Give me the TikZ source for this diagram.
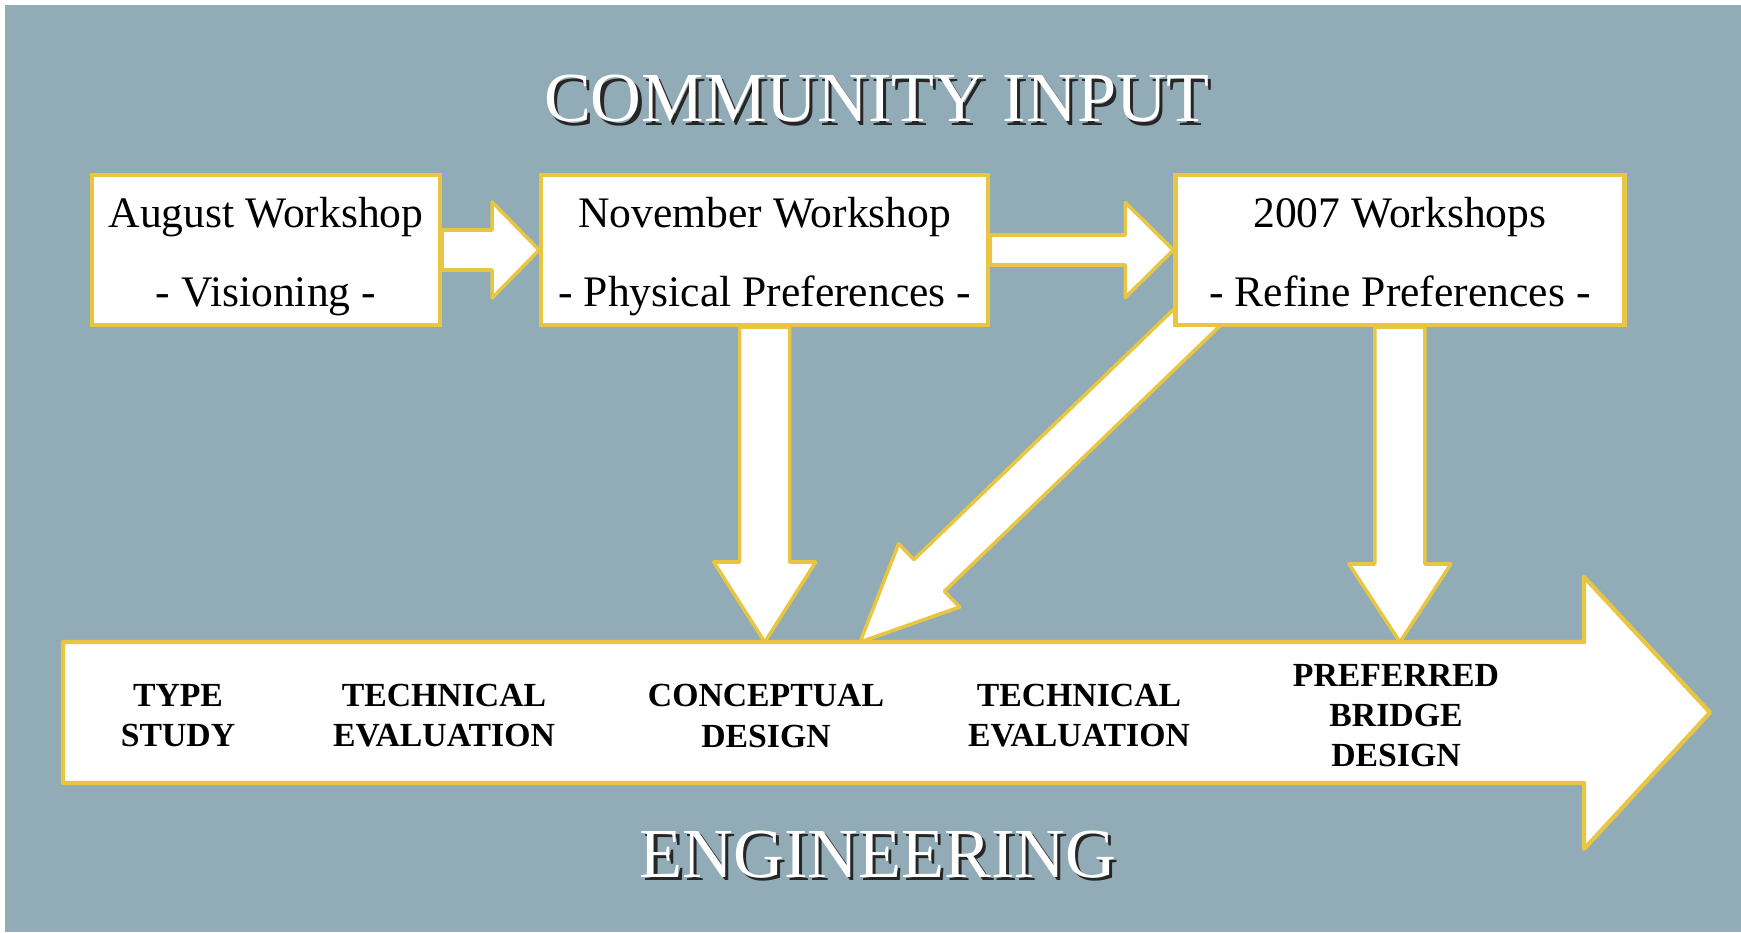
\documentclass[tikz,border=0pt]{standalone}
\usepackage{fontspec}
\setmainfont{Liberation Serif}
\usetikzlibrary{positioning, calc}

\definecolor{slate}{RGB}{145,172,182}
\definecolor{gold}{RGB}{232,198,66}

\pgfdeclarelayer{backdrop}
\pgfdeclarelayer{links}
\pgfsetlayers{backdrop,links,main}

% block arrow: from, to, half shaft, half head, head length
\newcommand{\blockarrow}[5]{%
  \path (#1) coordinate (ba-from) (#2) coordinate (ba-to);
  \path ($(ba-to)!#5!(ba-from)$) coordinate (ba-neck);
  \filldraw[flow] ($(ba-from)!#3!90:(ba-to)$) -- ($(ba-neck)!#3!90:(ba-to)$)
    -- ($(ba-neck)!#4!90:(ba-to)$) -- (ba-to)
    -- ($(ba-neck)!#4!-90:(ba-to)$) -- ($(ba-neck)!#3!-90:(ba-to)$)
    -- ($(ba-from)!#3!-90:(ba-to)$) -- cycle;
}
\newcommand{\embossed}[1]{\makebox[0pt][l]{\hspace{0.9pt}\raisebox{-0.9pt}{\color{black!85}#1}}{\color{white}#1}}
% workshop title and topic, with fixed line heights
\newcommand{\twolines}[2]{\rule{0pt}{12.5pt}#1\\#2\rule[-3pt]{0pt}{3pt}}

\begin{document}
\begin{tikzpicture}[
    box/.style={draw=gold, line width=1.2pt, fill=white, align=center, minimum height=1.5cm, inner sep=0pt,
      font=\fontsize{12.4}{22.5}\selectfont},
    stage/.style={align=center, font=\bfseries\fontsize{9.6}{11.4}\selectfont},
    heading/.style={anchor=base, font=\fontsize{20}{24}\selectfont},
    flow/.style={draw=gold, line width=1pt, fill=white, line join=round}
]
\useasboundingbox (0,0) rectangle (17.41,9.32);
\begin{pgfonlayer}{backdrop}
\fill[white] (0,0) rectangle (17.41,9.32);
\fill[slate] (0.05,0) rectangle (17.41,9.27);
\end{pgfonlayer}

\node[heading] (community) at (8.77,8.10) {\embossed{COMMUNITY INPUT}};
\node[heading] (engineering) at (8.78,0.55) {\embossed{ENGINEERING}};

\node[box, minimum width=3.48cm] (august) at (2.66,6.82) {\twolines{August Workshop}{- Visioning -}};
\node[box, minimum width=4.47cm, right=0.97cm of august] (november) {\twolines{November Workshop}{- Physical Preferences -}};
\node[box, minimum width=4.49cm, right=1.83cm of november] (later) {\twolines{2007 Workshops}{- Refine Preferences -}};

% engineering timeline
\coordinate (eng-top) at (0.63,2.90);
\coordinate (meet) at (8.60,2.90);
\filldraw[flow, line width=1.2pt] (eng-top) -- (15.84,2.90) -- (15.84,3.55) -- (17.10,2.195)
  -- (15.84,0.83) -- (15.84,1.49) -- (0.63,1.49) -- cycle;

\node[stage] (type) at (1.78,2.16) {TYPE\\STUDY};
\node[stage] (tech1) at (4.44,2.16) {TECHNICAL\\EVALUATION};
\node[stage] (concept) at (7.66,2.16) {CONCEPTUAL\\DESIGN};
\node[stage] (tech2) at (10.79,2.16) {TECHNICAL\\EVALUATION};
\node[stage] (preferred) at (13.96,2.16) {PREFERRED\\BRIDGE\\DESIGN};

\begin{pgfonlayer}{links}
\blockarrow{august.east}{november.west}{0.20cm}{0.48cm}{0.47cm}
\blockarrow{november.east}{later.west}{0.15cm}{0.475cm}{0.48cm}
\blockarrow{november.south}{november.south |- eng-top}{0.25cm}{0.51cm}{0.80cm}
\blockarrow{later.south}{later.south |- eng-top}{0.25cm}{0.51cm}{0.78cm}
\blockarrow{$(later.south west)+(0.52,0.37)$}{meet}{0.22cm}{0.44cm}{0.96cm}
\end{pgfonlayer}
\end{tikzpicture}
\end{document}
